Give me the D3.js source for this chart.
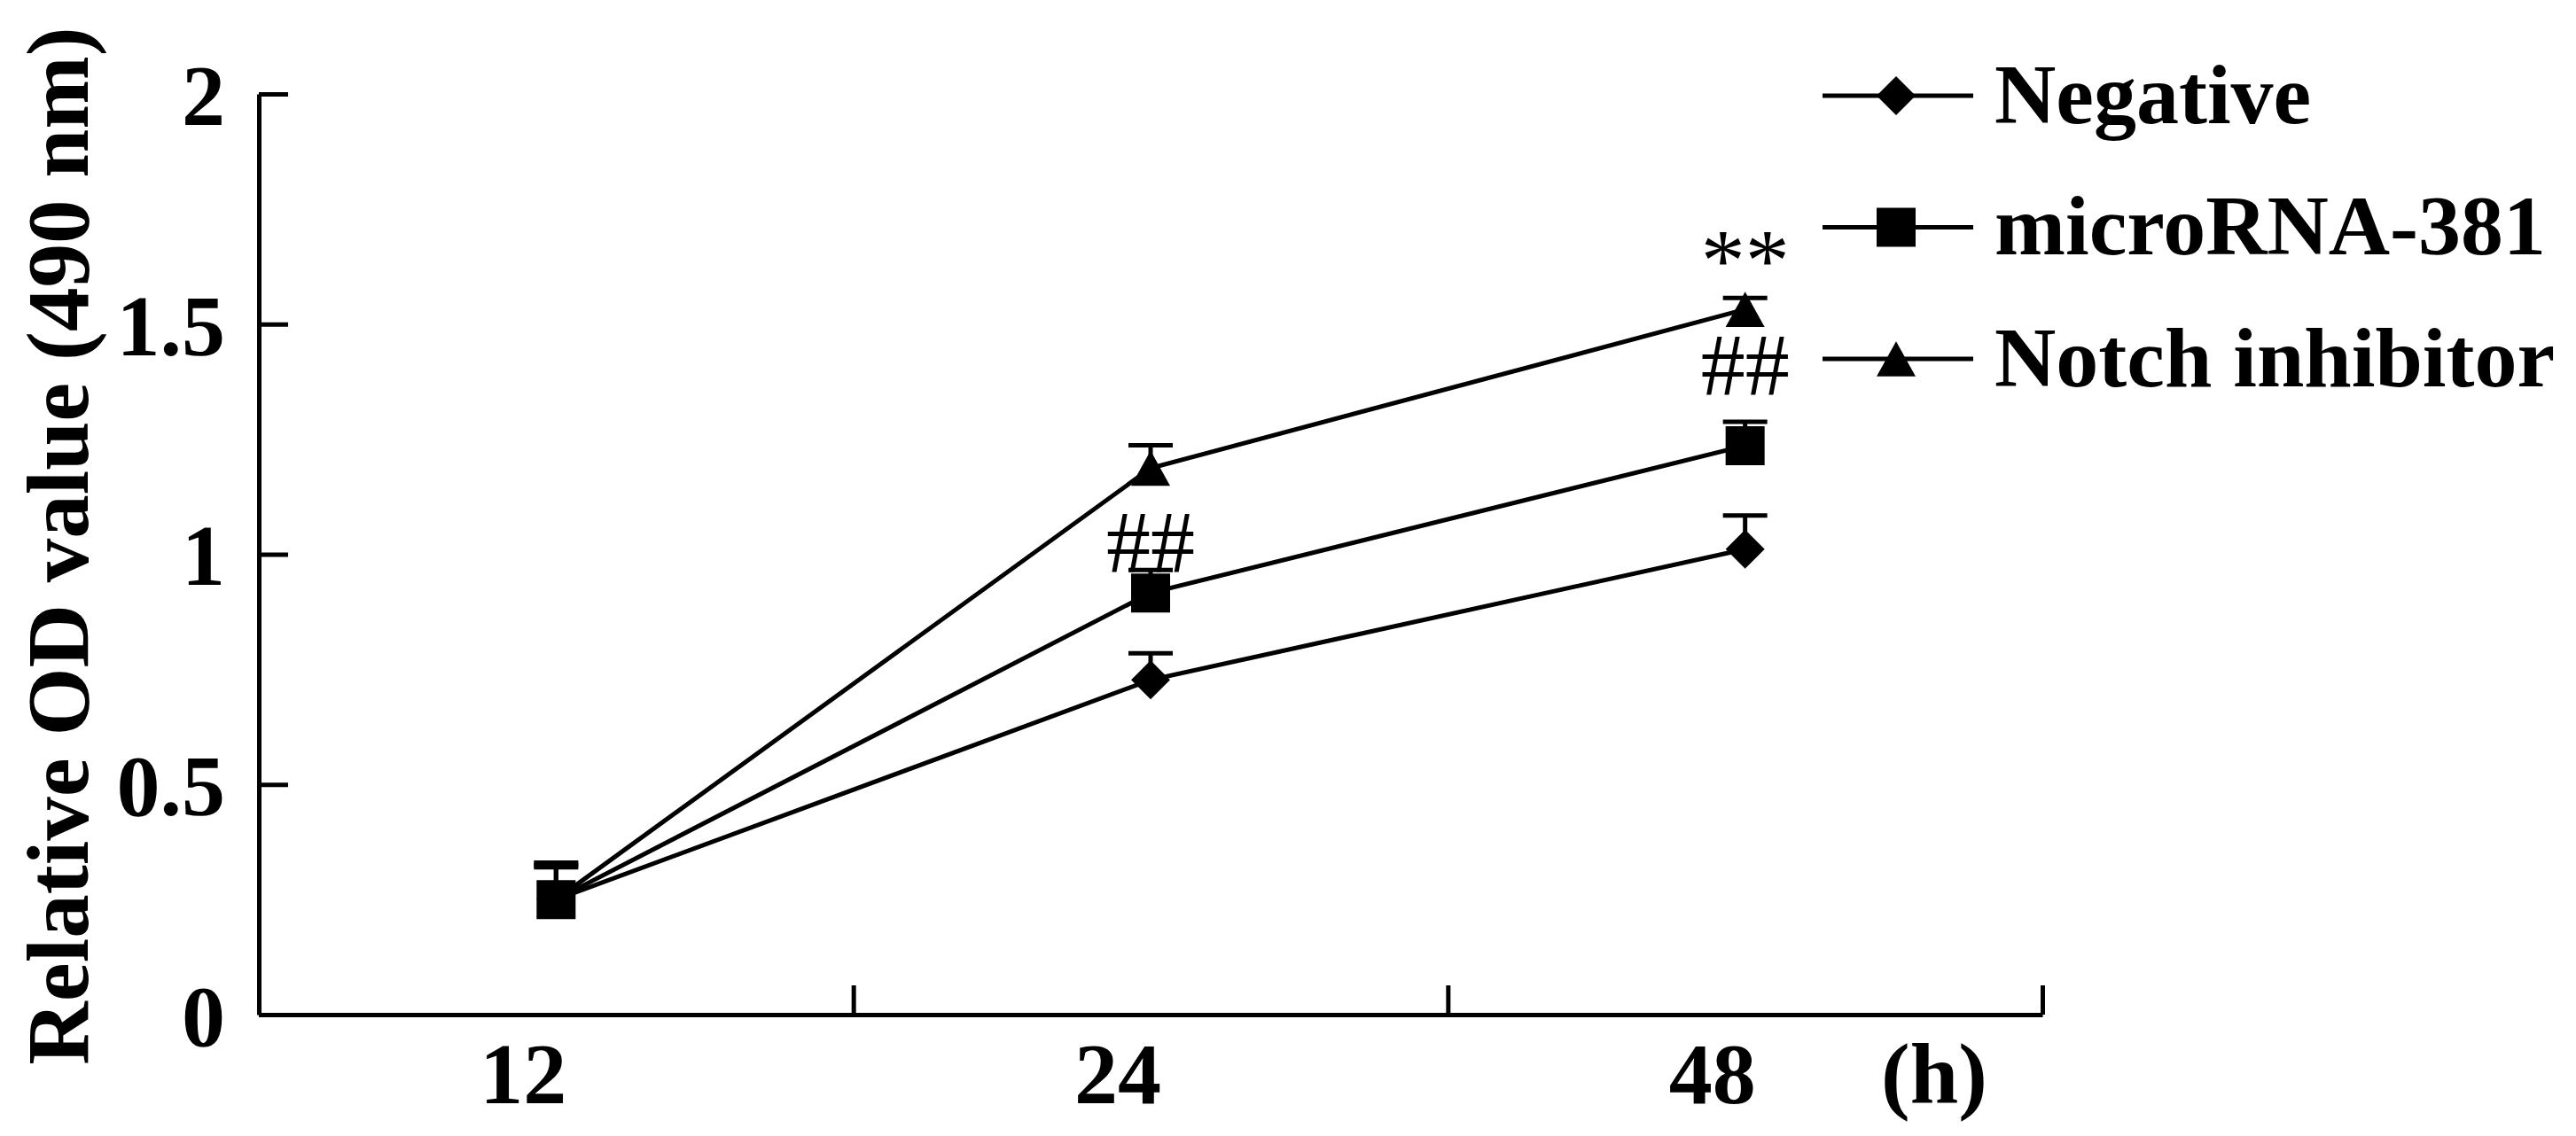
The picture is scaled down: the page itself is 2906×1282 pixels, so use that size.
<!DOCTYPE html>
<meta charset="utf-8">

<style>
  body { margin: 0; background: white; }
  text { font-family: "Liberation Serif", "Times New Roman", serif; fill: black; }
  .axis path, .axis line { stroke: black; stroke-width: 5; }
  .axis text { font-size: 98px; font-weight: bold; }
  .series { fill: none; stroke: black; stroke-width: 5; }
</style>

<body>
  <script src="https://d3js.org/d3.v7.min.js"></script>

  <script>
    // chart values
    var hours = ["12", "24", "48"];
    var seriesNames = ["Negative", "microRNA-381", "Notch inhibitor"];
    var negative = [0.25, 0.727, 1.011];
    var microRNA = [0.25, 0.916, 1.236];
    var notch = [0.25, 1.187, 1.532];
    var negativeErr = [0.07, 0.058, 0.073];
    var microRNAErr = [0.075, 0.05, 0.052];
    var notchErr = [0.08, 0.05, 0.025];
    var yTicks = [0, 0.5, 1, 1.5, 2];
    var marks = ["##", "##", "**"];
    var markHours = ["24", "48", "48"];
    var markValues = [0.962, 1.347, 1.575];

    var width = 2906,
        height = 1282;

    var svg = d3.select("body").append("svg")
                .attr("width", width)
                .attr("height", height);

    var x = d3.scaleBand().domain(hours).range([292, 2304]).padding(0);
    var y = d3.scaleLinear().domain([0, 2]).range([1145, 106]);

    // marker shapes, size = box width
    var shapes = {
      diamond: { draw: function(p, s) { var r = s / 2; p.moveTo(0, -r); p.lineTo(r, 0); p.lineTo(0, r); p.lineTo(-r, 0); p.closePath(); } },
      square: { draw: function(p, s) { var r = s / 2; p.rect(-r, -r, s, s); } },
      triangle: { draw: function(p, s) { var r = s / 2; p.moveTo(0, -r * 0.9); p.lineTo(r, r * 0.9); p.lineTo(-r, r * 0.9); p.closePath(); } }
    };

    var series = [
      { name: seriesNames[0], values: negative, err: negativeErr, shape: shapes.diamond },
      { name: seriesNames[1], values: microRNA, err: microRNAErr, shape: shapes.square },
      { name: seriesNames[2], values: notch, err: notchErr, shape: shapes.triangle }
    ];

    // axes
    svg.append("g")
       .attr("class", "axis")
       .attr("transform", "translate(292,0)")
       .call(d3.axisLeft(y).tickValues(yTicks).tickFormat(function(d) { return d; })
               .tickSizeInner(-33).tickSizeOuter(0).tickPadding(38))
       .selectAll("text").attr("dy", "0.35em");

    svg.append("g")
       .attr("class", "axis")
       .attr("transform", "translate(0,1145)")
       .call(d3.axisBottom(x).tickSize(0).tickPadding(30))
       .selectAll("text").attr("dx", -37);

    // x tick marks sit between categories
    var xEdges = d3.scaleLinear().domain([0, hours.length]).range(x.range());
    svg.append("g")
       .attr("class", "axis")
       .attr("transform", "translate(0,1145)")
       .call(d3.axisBottom(xEdges).tickValues([1, 2, 3]).tickFormat("")
               .tickSizeInner(-33).tickSizeOuter(0))
       .select(".domain").remove();

    svg.append("text")
       .attr("x", 2182).attr("y", 1245)
       .attr("text-anchor", "middle")
       .style("font-size", "98px").style("font-weight", "bold")
       .text("(h)");

    svg.append("text")
       .attr("transform", "translate(99,616) rotate(-90)")
       .attr("text-anchor", "middle")
       .style("font-size", "99px").style("font-weight", "bold")
       .text("Relative OD value (490 nm)");

    var cx = function(i) { return x(hours[i]) + x.bandwidth() / 2; };

    var line = d3.line()
                 .x(function(d, i) { return cx(i); })
                 .y(function(d) { return y(d); });

    svg.selectAll(".series")
       .data(series)
       .enter().append("path")
       .attr("class", "series")
       .attr("d", function(s) { return line(s.values); });

    // error bars (upper side only)
    series.forEach(function(s) {
      var g = svg.append("g").attr("stroke", "black").attr("stroke-width", 5);
      s.values.forEach(function(v, i) {
        g.append("line")
         .attr("x1", cx(i)).attr("x2", cx(i))
         .attr("y1", y(v)).attr("y2", y(v + s.err[i]));
        g.append("line")
         .attr("x1", cx(i) - 25).attr("x2", cx(i) + 25)
         .attr("y1", y(v + s.err[i])).attr("y2", y(v + s.err[i]));
      });
    });

    // markers, square series last so it sits on top at 12 h
    [series[2], series[0], series[1]].forEach(function(s) {
      svg.append("g").selectAll("path")
         .data(s.values)
         .enter().append("path")
         .attr("transform", function(d, i) { return "translate(" + cx(i) + "," + y(d) + ")"; })
         .attr("d", d3.symbol(s.shape, 44))
         .attr("fill", "black");
    });

    // significance marks
    svg.selectAll(".mark")
       .data(marks)
       .enter().append("text")
       .attr("class", "mark")
       .attr("x", function(d, i) { return x(markHours[i]) + x.bandwidth() / 2; })
       .attr("y", function(d, i) { return y(markValues[i]); })
       .attr("text-anchor", "middle")
       .style("font-size", "100px")
       .text(function(d) { return d; });

    // legend
    var legend = svg.selectAll(".legend")
                    .data(series)
                    .enter().append("g")
                    .attr("class", "legend")
                    .attr("transform", function(d, i) { return "translate(0," + (108 + i * 148.5) + ")"; });

    legend.append("line")
          .attr("x1", 2056).attr("x2", 2226)
          .attr("stroke", "black").attr("stroke-width", 5);

    legend.append("path")
          .attr("transform", "translate(2139,0)")
          .attr("d", function(s) { return d3.symbol(s.shape, 44)(); })
          .attr("fill", "black");

    legend.append("text")
          .attr("x", 2250)
          .attr("dy", "0.32em")
          .style("font-size", "96px").style("font-weight", "bold")
          .text(function(s) { return s.name; });
  </script>
</body>
